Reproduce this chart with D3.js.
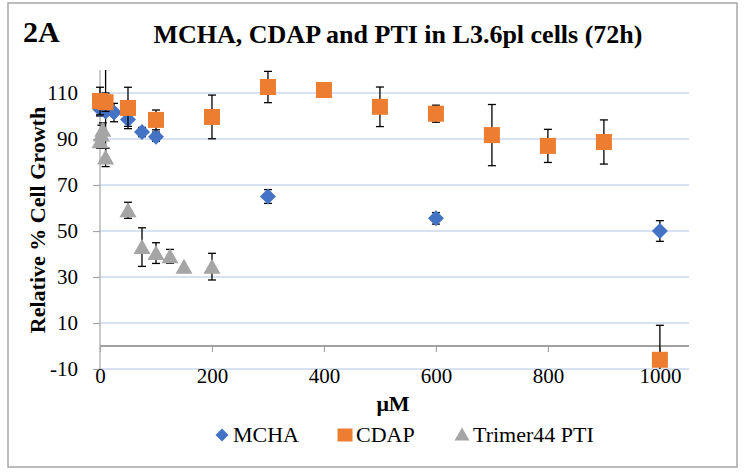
<!DOCTYPE html>
<html><head><meta charset="utf-8">
<script src="https://cdn.jsdelivr.net/npm/d3@7"></script>
<style>body{margin:0;background:#fff}text{font-family:"Liberation Serif","Times New Roman",serif;}</style>
</head><body>
<svg id="c" width="744" height="473"></svg>
<script>
// ---- data ----
const seriesNames = ["MCHA", "CDAP", "Trimer44 PTI"];
const mchaX = [0, 10, 25, 50, 75, 100, 300, 600, 1000];
const mchaY = [103, 102, 101.5, 98.5, 93, 91, 65, 55.5, 50];
const mchaErr = [3, 20, 4, 3, 2, 2, 3, 2.5, 4.5];
const cdapX = [0, 10, 50, 100, 200, 300, 400, 500, 600, 700, 800, 900, 1000];
const cdapY = [106.5, 106, 103.5, 98.3, 99.6, 112.6, 111.3, 104, 101, 91.7, 87, 88.7, -6];
const cdapErr = [6, 4, 9, 4.3, 9.5, 6.8, 0, 8.6, 3.7, 13.3, 7.2, 9.6, 15];
const ptiX = [0, 2.5, 5, 10, 50, 75, 100, 125, 150, 200];
const ptiY = [89, 92, 94, 82, 59, 43, 40.4, 39, 34.5, 34.5];
const ptiErr = [3, 4, 3, 4, 3.5, 8.4, 4.5, 3, 0.5, 5.8];
const xTicks = [0, 200, 400, 600, 800, 1000];
const yTicks = [-10, 10, 30, 50, 70, 90, 110];

const svg = d3.select("#c");
const L = 100, R = 689, T = 70, B = 369;
const x = d3.scaleLinear().domain([0, 1052]).range([L, R]);
const y = d3.scaleLinear().domain([-10, 120]).range([B, T]);

// border
svg.append("rect").attr("x", 8).attr("y", 3).attr("width", 729).attr("height", 464)
  .attr("fill", "#fff").attr("stroke", "#a6a6a6").attr("stroke-width", 1.5);

// gridlines
svg.append("g").selectAll("line").data(yTicks).join("line")
  .attr("x1", L).attr("x2", R).attr("y1", d => y(d)).attr("y2", d => y(d))
  .attr("stroke", "#b4c6e7").attr("stroke-width", 1.2);

// y axis
const yAxis = d3.axisLeft(y).tickValues(yTicks).tickSize(7).tickFormat(d => String(d));
const gy = svg.append("g").attr("transform", `translate(${L},0)`).call(yAxis);
gy.select(".domain").attr("stroke", "#a6a6a6").attr("stroke-width", 1.2).attr("d", `M0,${T}V${B}`);
gy.selectAll(".tick line").attr("stroke", "#a6a6a6").attr("stroke-width", 1.2);
gy.selectAll(".tick text").attr("font-size", 21).attr("fill", "#000")
  .style("font-family", "'Liberation Serif',serif").attr("x", -22);

// x axis at zero
const xAxis = d3.axisBottom(x).tickValues(xTicks).tickSize(6).tickFormat(d => String(d));
const gx = svg.append("g").attr("transform", `translate(0,${y(0)})`).call(xAxis);
gx.select(".domain").attr("stroke", "#808080").attr("stroke-width", 1.3).attr("d", `M${L},0H${R}`);
gx.selectAll(".tick line").attr("stroke", "#a6a6a6").attr("stroke-width", 1.2);
gx.selectAll(".tick text").attr("font-size", 21).attr("fill", "#000")
  .style("font-family", "'Liberation Serif',serif").attr("y", 383 - y(0)).attr("dy", 0);

// clip
svg.append("clipPath").attr("id", "pc").append("rect")
  .attr("x", L - 20).attr("y", T).attr("width", R - L + 40).attr("height", B - T);

const series = [
  {xs: mchaX, ys: mchaY, es: mchaErr, color: "#4472c4", shape: "diamond"},
  {xs: cdapX, ys: cdapY, es: cdapErr, color: "#ed7d31", shape: "square"},
  {xs: ptiX, ys: ptiY, es: ptiErr, color: "#a5a5a5", shape: "triangle"}
];
const shapes = {
  diamond: "M0,-8L8,0L0,8L-8,0Z",
  square: "M-8,-8H8V8H-8Z",
  triangle: "M0,-8L8.5,7L-8.5,7Z"
};
const plot = svg.append("g").attr("clip-path", "url(#pc)");
series.forEach(s => {
  const pts = s.xs.map((v, i) => ({x: v, y: s.ys[i], e: s.es[i]}));
  const g = plot.append("g");
  const eb = g.append("g").attr("stroke", "#000").attr("stroke-width", 1.3).attr("fill", "none");
  pts.filter(p => p.e > 0.6).forEach(p => {
    const cx = x(p.x), y1 = y(p.y + p.e), y2 = y(p.y - p.e);
    eb.append("line").attr("x1", cx).attr("x2", cx).attr("y1", y1).attr("y2", y2);
    eb.append("line").attr("x1", cx - 4).attr("x2", cx + 4).attr("y1", y1).attr("y2", y1);
    eb.append("line").attr("x1", cx - 4).attr("x2", cx + 4).attr("y1", y2).attr("y2", y2);
  });
  g.append("g").selectAll("path").data(pts).join("path")
    .attr("d", shapes[s.shape]).attr("fill", s.color)
    .attr("transform", p => `translate(${x(p.x)},${y(p.y)})`);
});

// titles
svg.append("text").attr("x", 23).attr("y", 42).attr("font-size", 30).attr("font-weight", "bold").text("2A");
svg.append("text").attr("x", 398).attr("y", 43).attr("text-anchor", "middle")
  .attr("font-size", 26).attr("font-weight", "bold").text("MCHA, CDAP and PTI in L3.6pl cells (72h)");
svg.append("text").attr("transform", "translate(45,220) rotate(-90)").attr("text-anchor", "middle")
  .attr("font-size", 22).attr("font-weight", "bold").text("Relative % Cell Growth");
svg.append("text").attr("x", 393).attr("y", 411).attr("text-anchor", "middle")
  .attr("font-size", 22).attr("font-weight", "bold").text("μM");

// legend
const legX = [222, 345, 462];
const legShapes = ["M0,-6.5L6.5,0L0,6.5L-6.5,0Z", "M-7.5,-6.5H7.5V6.5H-7.5Z", "M0,-6.5L7.5,6.5L-7.5,6.5Z"];
const legColors = ["#4472c4", "#ed7d31", "#a5a5a5"];
const lg = svg.append("g");
seriesNames.forEach((n, i) => {
  lg.append("path").attr("d", legShapes[i]).attr("fill", legColors[i])
    .attr("transform", `translate(${legX[i]},${i === 2 ? 434 : 435})`);
  lg.append("text").attr("x", legX[i] + 11).attr("y", 442).attr("font-size", 22).text(n);
});
</script>
</body></html>
